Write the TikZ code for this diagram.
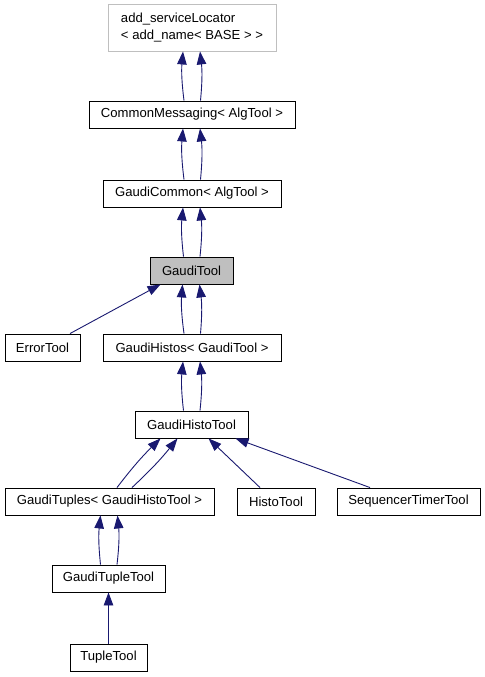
\documentclass[tikz,border=0pt]{standalone}
\usepackage{fontspec}
\setmainfont{Liberation Sans}
\usetikzlibrary{arrows.meta}
\definecolor{edgecol}{HTML}{191970}
\definecolor{grayfill}{HTML}{BFBFBF}
\definecolor{grayline}{HTML}{BFBFBF}
\tikzset{
  box/.style={draw=black, line width=0.9bp, fill=white, inner sep=0pt, minimum height=27bp,
    font=\fontsize{13.1bp}{15bp}\selectfont},
  edge/.style={draw=edgecol, line width=0.9bp, -{Triangle[length=13bp,width=9.5bp]}},
}
\begin{document}
\begin{tikzpicture}[x=1bp,y=-1bp]
\useasboundingbox (0,0) rectangle (485,677);
\node[box, draw=grayline, minimum width=168bp, minimum height=47bp, align=left,
  font=\fontsize{13.1bp}{17bp}\selectfont] (svc) at (192,27.5) {add\_serviceLocator\\< add\_name< BASE > >};
\node[box, minimum width=206bp] (cm) at (192,114.5) {CommonMessaging< AlgTool >};
\node[box, minimum width=178bp] (gc) at (192,193.5) {GaudiCommon< AlgTool >};
\node[box, fill=grayfill, minimum width=83bp] (gt) at (191.5,270.5) {GaudiTool};
\node[box, minimum width=75bp] (et) at (42.5,347.5) {ErrorTool};
\node[box, minimum width=178bp] (gh) at (192,347.5) {GaudiHistos< GaudiTool >};
\node[box, minimum width=113bp] (ght) at (191.5,424.5) {GaudiHistoTool};
\node[box, minimum width=209bp] (gtu) at (109.5,501.5) {GaudiTuples< GaudiHistoTool >};
\node[box, minimum width=78bp] (ht) at (276,501.5) {HistoTool};
\node[box, minimum width=143bp] (stt) at (408.5,501.5) {SequencerTimerTool};
\node[box, minimum width=113bp] (gtt) at (108.5,578.5) {GaudiTupleTool};
\node[box, minimum width=77bp] (tt) at (108.5,657.5) {TupleTool};

% double edges
\foreach \c/\p in {cm/svc, gc/cm, gt/gc, gh/gt, ght/gh}{
  \draw[edge] ([xshift=-8bp]\c.north) to[bend left=6] ([xshift=-9bp]\p.south);
  \draw[edge] ([xshift=8.5bp]\c.north) to[bend right=6] ([xshift=8bp]\p.south);
}
\draw[edge] ([xshift=-8bp]gtt.north) to[bend left=6] ([xshift=-9bp]gtu.south);
\draw[edge] ([xshift=8.5bp]gtt.north) to[bend right=6] ([xshift=8bp]gtu.south);
\draw[edge] ([xshift=7.5bp]gtu.north) to[bend left=4] ([xshift=-31bp]ght.south);
\draw[edge] ([xshift=22.5bp]gtu.north) to[bend right=4] ([xshift=-14bp]ght.south);
% single edges
\draw[edge] ([xshift=27.5bp]et.north) -- ([xshift=-31bp]gt.south);
\draw[edge] ([xshift=-16bp]ht.north) -- ([xshift=17bp]ght.south);
\draw[edge] ([xshift=-38.5bp]stt.north) -- ([xshift=44bp]ght.south);
\draw[edge] (tt.north) -- (gtt.south);
\end{tikzpicture}
\end{document}
